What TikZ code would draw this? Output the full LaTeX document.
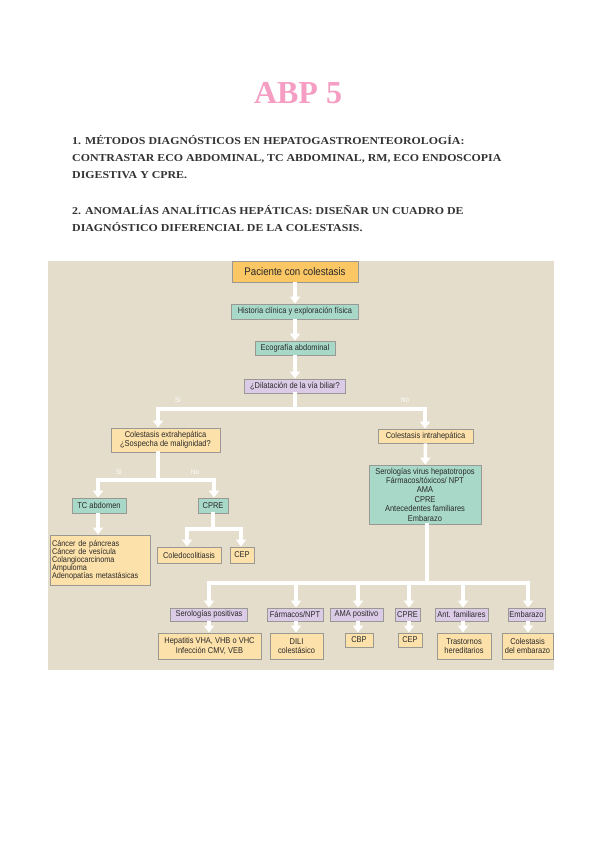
\documentclass[tikz,border=0pt]{standalone}
\usepackage{fontspec}
\setmainfont{Liberation Serif}
\newfontfamily\chartfont{Liberation Sans}[FakeStretch=0.88]
\newfontfamily\headfont{Liberation Serif}[FakeStretch=1.12]
\usetikzlibrary{arrows.meta}
\definecolor{bgpanel}{HTML}{E5DDCB}
\definecolor{cOrange}{HTML}{FBC664}
\definecolor{cLight}{HTML}{FDE1AA}
\definecolor{cTeal}{HTML}{A7D8C8}
\definecolor{cLav}{HTML}{DCCBE6}
\definecolor{boxline}{HTML}{9A9893}
\definecolor{chartText}{HTML}{2A2A2A}
\definecolor{headText}{HTML}{333333}
\definecolor{titlePink}{HTML}{F59DC3}
\begin{document}
\begin{tikzpicture}[x=1pt,y=-1pt,
  box/.style={draw=boxline, line width=0.8pt, inner sep=0pt, align=center,
    text=chartText, font=\chartfont\fontsize{8.5}{9.4}\selectfont},
  orbox/.style={box, fill=cOrange},
  ltbox/.style={box, fill=cLight},
  tlbox/.style={box, fill=cTeal},
  lvbox/.style={box, fill=cLav},
  wline/.style={draw=white, line width=3.5pt, line cap=rect},
  warr/.style={draw=white, line width=3.5pt, -{Triangle[width=10pt,length=7pt]}},
  yn/.style={text=white, font=\chartfont\fontsize{7}{8}\selectfont, inner sep=0pt},
  head/.style={anchor=base west, inner sep=0pt, text=headText,
    font=\headfont\bfseries\fontsize{10.6}{12}\selectfont}]
\useasboundingbox (0,0) rectangle (600,848);
\fill[white] (0,0) rectangle (600,848);

% title and headings
\node[inner sep=0pt, anchor=base, text=titlePink, font=\bfseries\fontsize{32}{36}\selectfont] (title) at (298,103) {ABP 5};
\node[head] (h1a) at (72,144) {1. MÉTODOS DIAGNÓSTICOS EN HEPATOGASTROENTEOROLOGÍA:};
\node[head] (h1b) at (72,161) {CONTRASTAR ECO ABDOMINAL, TC ABDOMINAL, RM, ECO ENDOSCOPIA};
\node[head] (h1c) at (72,178) {DIGESTIVA Y CPRE.};
\node[head] (h2a) at (72,214) {2. ANOMALÍAS ANALÍTICAS HEPÁTICAS: DISEÑAR UN CUADRO DE};
\node[head] (h2b) at (72,231) {DIAGNÓSTICO DIFERENCIAL DE LA COLESTASIS.};

% panel
\fill[bgpanel] (48,261) rectangle (554,670);

% top chain
\node[orbox, minimum width=126pt, minimum height=21pt, font=\chartfont\fontsize{11}{12}\selectfont] (pac) at (295,271.5) {Paciente con colestasis};
\node[tlbox, minimum width=127pt, minimum height=15pt] (hist) at (295,311.5) {Historia clínica y exploración física};
\node[tlbox, minimum width=80pt, minimum height=14pt] (eco) at (295,348) {Ecografía abdominal};
\node[lvbox, minimum width=101pt, minimum height=14pt] (dil) at (295,386) {¿Dilatación de la vía biliar?};

\draw[warr] (pac) -- (hist);
\draw[warr] (hist) -- (eco);
\draw[warr] (eco) -- (dil);

% first split
\coordinate (j1) at (295,409);
\coordinate (j1L) at (158,409);
\coordinate (j1R) at (425,409);
\node[ltbox, minimum width=109pt, minimum height=24pt] (ext) at (165.5,440) {Colestasis extrahepática\\¿Sospecha de malignidad?};
\node[ltbox, minimum width=95pt, minimum height=14pt] (intra) at (425.5,436) {Colestasis intrahepática};
\draw[wline] (dil) -- (j1);
\draw[wline] (j1L) -- (j1R);
\draw[warr] (j1L) -- (j1L |- ext.north);
\draw[warr] (j1R) -- (j1R |- intra.north);
\node[yn] (si1) at (178,400) {Sí};
\node[yn] (no1) at (405,400) {No};

% intrahepatic
\node[tlbox, minimum width=112pt, minimum height=59pt] (ser) at (425,494.5) {Serologías virus hepatotropos\\Fármacos/tóxicos/ NPT\\AMA\\CPRE\\Antecedentes familiares\\Embarazo};
\draw[warr] (intra) -- (ser);

% extrahepatic split
\coordinate (j2) at (158,480);
\coordinate (j2L) at (98,480);
\coordinate (j2R) at (214,480);
\node[tlbox, minimum width=54pt, minimum height=15pt] (tc) at (99,505.5) {TC abdomen};
\node[tlbox, minimum width=30pt, minimum height=15pt] (cpre1) at (213,505.5) {CPRE};
\draw[wline] (j2 |- ext.south) -- (j2);
\draw[wline] (j2L) -- (j2R);
\draw[warr] (j2L) -- (j2L |- tc.north);
\draw[warr] (j2R) -- (j2R |- cpre1.north);
\node[yn] (si2) at (119,472) {Sí};
\node[yn] (no2) at (195,472) {No};

\node[ltbox, minimum width=100pt, minimum height=50pt, align=left, text width=96pt, font=\chartfont\fontsize{8.3}{7.9}\selectfont] (cancer) at (100,560) {Cáncer de páncreas\\Cáncer de vesícula\\Colangiocarcinoma\\Ampuloma\\Adenopatías metastásicas};
\draw[warr] (j2L |- tc.south) -- (j2L |- cancer.north);

% CPRE split
\coordinate (j3) at (213,529);
\coordinate (j3L) at (187,529);
\coordinate (j3R) at (241,529);
\node[ltbox, minimum width=64pt, minimum height=16pt] (coledo) at (189,555) {Coledocolitiasis};
\node[ltbox, minimum width=24pt, minimum height=16pt] (cep1) at (242,555) {CEP};
\draw[wline] (cpre1) -- (j3);
\draw[wline] (j3L) -- (j3R);
\draw[warr] (j3L) -- (j3L |- coledo.north);
\draw[warr] (j3R) -- (j3R |- cep1.north);

% bottom split
\coordinate (j4) at (427,583);
\coordinate (d1) at (209,583);
\coordinate (d2) at (296,583);
\coordinate (d3) at (358,583);
\coordinate (d4) at (409,583);
\coordinate (d5) at (463,583);
\coordinate (d6) at (528,583);
\draw[wline] (j4 |- ser.south) -- (j4);
\draw[wline] (d1) -- (d6);

\node[lvbox, minimum width=77pt, minimum height=13pt] (serpos) at (209,614.5) {Serologías positivas};
\node[lvbox, minimum width=56pt, minimum height=13pt] (farm) at (295,614.5) {Fármacos/NPT};
\node[lvbox, minimum width=53pt, minimum height=13pt] (ama) at (356.5,614.5) {AMA positivo};
\node[lvbox, minimum width=25pt, minimum height=13pt] (cpre2) at (407.5,614.5) {CPRE};
\node[lvbox, minimum width=53pt, minimum height=13pt] (ant) at (461.5,614.5) {Ant. familiares};
\node[lvbox, minimum width=37pt, minimum height=13pt] (emb) at (526.5,614.5) {Embarazo};

\draw[warr] (d1) -- (d1 |- serpos.north);
\draw[warr] (d2) -- (d2 |- farm.north);
\draw[warr] (d3) -- (d3 |- ama.north);
\draw[warr] (d4) -- (d4 |- cpre2.north);
\draw[warr] (d5) -- (d5 |- ant.north);
\draw[warr] (d6) -- (d6 |- emb.north);

\node[ltbox, minimum width=103pt, minimum height=26pt] (hep) at (209.5,646) {Hepatitis VHA, VHB o VHC\\Infección CMV, VEB};
\node[ltbox, minimum width=53pt, minimum height=26pt] (dili) at (296.5,646) {DILI\\colestásico};
\node[ltbox, minimum width=28pt, minimum height=14pt] (cbp) at (359,640) {CBP};
\node[ltbox, minimum width=24pt, minimum height=14pt] (cep2) at (410,640) {CEP};
\node[ltbox, minimum width=54pt, minimum height=26pt] (tras) at (464,646) {Trastornos\\hereditarios};
\node[ltbox, minimum width=51pt, minimum height=26pt] (colemb) at (527.5,646) {Colestasis\\del embarazo};

\draw[warr] (d1 |- serpos.south) -- (d1 |- hep.north);
\draw[warr] (d2 |- farm.south) -- (d2 |- dili.north);
\draw[warr] (d3 |- ama.south) -- (d3 |- cbp.north);
\draw[warr] (d4 |- cpre2.south) -- (d4 |- cep2.north);
\draw[warr] (d5 |- ant.south) -- (d5 |- tras.north);
\draw[warr] (d6 |- emb.south) -- (d6 |- colemb.north);
\end{tikzpicture}
\end{document}
